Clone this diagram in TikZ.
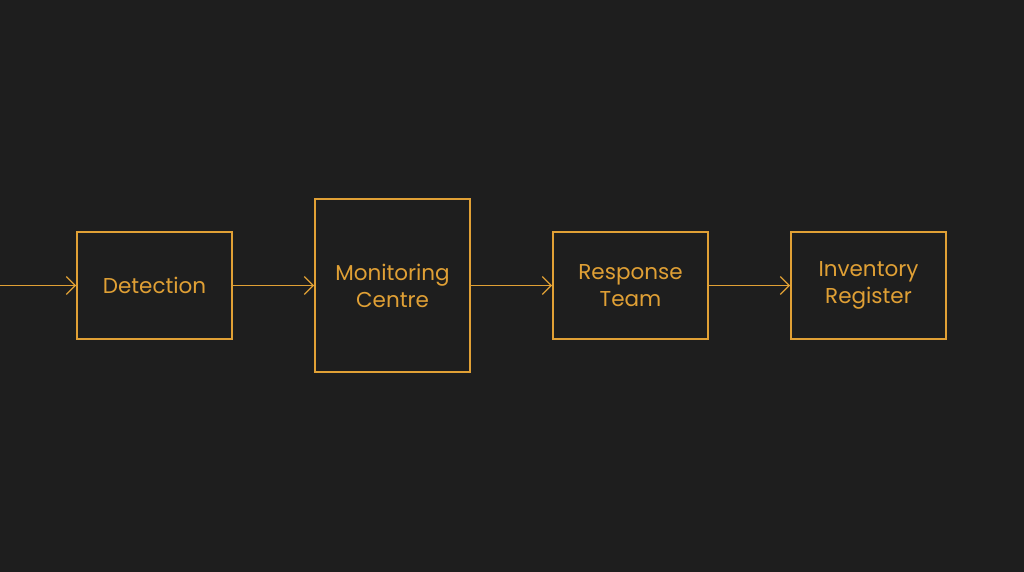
\documentclass[tikz,border=0pt]{standalone}
\usepackage{fontspec}
\setmainfont{Poppins}
\usetikzlibrary{arrows.meta}
\definecolor{bg}{HTML}{1E1E1E}
\definecolor{org}{HTML}{E0A035}
\begin{document}
\begin{tikzpicture}[x=1pt,y=-1pt,
  box/.style={draw=org,line width=1.6pt,text=org,align=center,font=\fontsize{21.5}{27}\selectfont,inner sep=0pt},
  arr/.style={draw=org,line width=1.3pt,-{Straight Barb[length=9pt,width=18pt,line width=1.3pt]}}]
\fill[bg] (0,0) rectangle (1024,572);
\useasboundingbox (0,0) rectangle (1024,572);
\node[box,minimum width=155pt,minimum height=107pt] (d) at (154.5,285.5) {Detection};
\node[box,minimum width=155pt,minimum height=173pt] (m) at (392.5,285.5) {Monitoring\\Centre};
\node[box,minimum width=155pt,minimum height=107pt] (r) at (630.5,285.5) {Response\\Team};
\node[box,minimum width=155pt,minimum height=107pt] (i) at (868.5,285.5) {Inventory\\Register};
\coordinate (s) at (0,285.5);
\draw[arr] (s) -- (d);
\draw[arr] (d) -- (m);
\draw[arr] (m) -- (r);
\draw[arr] (r) -- (i);
\end{tikzpicture}
\end{document}
